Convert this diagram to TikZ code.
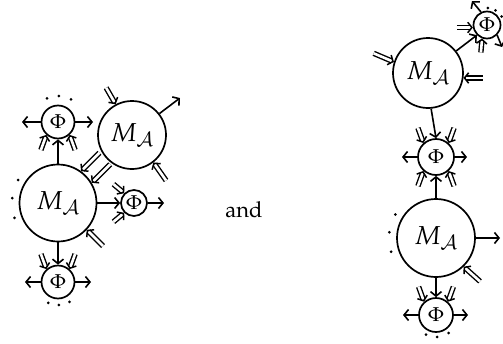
\documentclass[tikz,border=0pt]{standalone}
\usepackage{mathpazo}
\usetikzlibrary{arrows.meta,calc}
\tikzset{
  circ/.style={circle, draw, line width=1.7pt, inner sep=0pt},
  mbig/.style={circ, minimum size=#1pt, font=\fontsize{26}{30}\selectfont},
  phin/.style={circ, minimum size=#1pt, font=\fontsize{20}{24}\selectfont},
  arr/.style={line width=1.6pt, -{Straight Barb[length=4.5pt,width=11pt]}},
  dbl/.style={double, double distance=2.6pt, line width=1.4pt, shorten >=2.2pt},
  dblhead/.style={line width=1.5pt, -{Straight Barb[length=4.2pt,width=10.5pt]}},
}
\newcommand\stubin[4]{\draw[dbl] ($(#1.#2)+(#3:#4pt)$) -- (#1.#2);
  \draw[dblhead] ($(#1.#2)+(#3:2pt)$) -- (#1.#2);}
\newcommand\dotat[3]{\fill ($(#1.center)+(#2:#3pt)$) circle (1.5pt);}
\begin{document}
\begin{tikzpicture}[x=1pt,y=-1pt]
\useasboundingbox (0,0) rectangle (503,343);
% ---------- left diagram ----------
\node[mbig=77] (bigM) at (58,203) {$M_{\mathcal A}$};
\node[mbig=68] (upM) at (132,135) {$M_{\mathcal A}$};
\node[phin=33] (phiT) at (58,122) {$\Phi$};
\node[phin=26] (phiR) at (134,203) {$\Phi$};
\node[phin=33] (phiB) at (58,282) {$\Phi$};
\draw[arr] (bigM.90) -- (phiT.270);
\draw[arr] (bigM.0) -- (phiR.180);
\draw[arr] (bigM.270) -- (phiB.90);
\coordinate (tL) at (22,122); \coordinate (tR) at (93,122);
\draw[arr] (phiT.180) -- (tL); \draw[arr] (phiT.0) -- (tR);
\coordinate (rR) at (164,203); \draw[arr] (phiR.0) -- (rR);
\coordinate (bL) at (25,282); \coordinate (bR) at (91,282);
\draw[arr] (phiB.180) -- (bL); \draw[arr] (phiB.0) -- (bR);
\coordinate (uo) at (180,98); \draw[arr] (upM.38) -- (uo);
\stubin{phiT}{228}{250}{16} \stubin{phiT}{312}{290}{16}
\stubin{phiR}{135}{140}{14} \stubin{phiR}{225}{220}{14}
\stubin{phiB}{132}{110}{16} \stubin{phiB}{48}{70}{16}
\stubin{upM}{118}{120}{19} \stubin{upM}{308}{305}{22}
\stubin{bigM}{317}{315}{23}
\stubin{bigM}{54}{45}{26} \stubin{bigM}{31}{45}{26}
\dotat{phiT}{115}{26} \dotat{phiT}{88}{26} \dotat{phiT}{60}{26}
\dotat{bigM}{150}{46} \dotat{bigM}{174}{46} \dotat{bigM}{199}{46}
\dotat{phiB}{245}{23} \dotat{phiB}{272}{23} \dotat{phiB}{300}{23}
% ---------- and ----------
\node[font=\fontsize{22}{26}\selectfont, anchor=base] (and) at (244,217) {$\mathrm{and}$};
% ---------- right diagram ----------
\node[mbig=70] (topM) at (428,73) {$M_{\mathcal A}$};
\node[phin=27] (phiTT) at (487,25) {$\Phi$};
\node[phin=36] (phiM) at (436,157) {$\Phi$};
\node[mbig=78] (botM) at (436,238) {$M_{\mathcal A}$};
\node[phin=34] (phiBB) at (436,315) {$\Phi$};
\draw[arr] (topM.-85) -- (phiM.90);
\draw[arr] (botM.90) -- (phiM.270);
\draw[arr] (botM.270) -- (phiBB.90);
\draw[arr] (topM.38) -- (phiTT.225);
\coordinate (bmR) at (500,238); \draw[arr] (botM.0) -- (bmR);
\coordinate (mL) at (402,157); \coordinate (mR) at (467,157);
\draw[arr] (phiM.180) -- (mL); \draw[arr] (phiM.0) -- (mR);
\coordinate (bbL) at (403,315); \coordinate (bbR) at (468,315);
\draw[arr] (phiBB.180) -- (bbL); \draw[arr] (phiBB.0) -- (bbR);
\coordinate (ttU) at (472,1); \coordinate (ttD) at (502,47);
\draw[arr] (phiTT.115) -- (ttU); \draw[arr] (phiTT.-45) -- (ttD);
\stubin{phiM}{132}{110}{16} \stubin{phiM}{48}{70}{16}
\stubin{phiM}{228}{250}{16} \stubin{phiM}{312}{290}{16}
\stubin{phiBB}{132}{110}{16} \stubin{phiBB}{48}{70}{16}
\stubin{phiTT}{190}{180}{16} \stubin{phiTT}{250}{265}{14}
\stubin{topM}{162}{157}{22} \stubin{topM}{352}{0}{19}
\stubin{botM}{314}{318}{22}
\dotat{phiTT}{87}{17} \dotat{phiTT}{60}{17} \dotat{phiTT}{30}{17}
\dotat{botM}{150}{47} \dotat{botM}{173}{47} \dotat{botM}{197}{47}
\dotat{phiBB}{243}{22} \dotat{phiBB}{273}{22} \dotat{phiBB}{305}{22}
\end{tikzpicture}
\end{document}
